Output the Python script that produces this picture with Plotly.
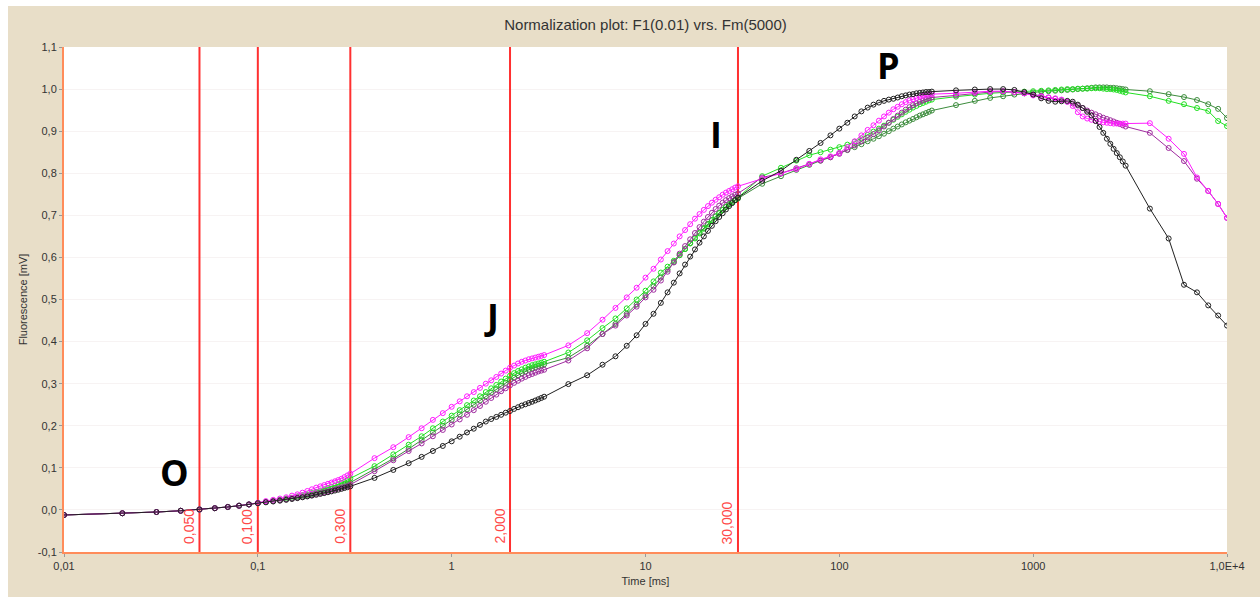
import math
import plotly.graph_objects as go

# Sampling times [ms] of the OJIP transient
time_ms = [
    0.01, 0.02, 0.03, 0.04, 0.05, 0.06, 0.07, 0.08, 0.09, 0.10,
    0.11, 0.12, 0.13, 0.14, 0.15, 0.16, 0.17, 0.18, 0.19, 0.20,
    0.21, 0.22, 0.23, 0.24, 0.25, 0.26, 0.27, 0.28, 0.29, 0.30,
    0.4, 0.5, 0.6, 0.7, 0.8, 0.9, 1.0, 1.1, 1.2, 1.3, 1.4, 1.5, 1.6, 1.7,
    1.8, 1.9, 2.0, 2.1, 2.2, 2.3, 2.4, 2.5, 2.6, 2.7, 2.8, 2.9, 3.0,
    4, 5, 6, 7, 8, 9, 10, 11, 12, 13, 14, 15, 16, 17, 18, 19, 20,
    21, 22, 23, 24, 25, 26, 27, 28, 29, 30,
    40, 50, 60, 70, 80, 90, 100, 110, 120, 130, 140, 150, 160, 170,
    180, 190, 200, 210, 220, 230, 240, 250, 260, 270, 280, 290, 300,
    400, 500, 600, 700, 800, 900, 1000, 1100, 1200, 1300, 1400, 1500,
    1600, 1700, 1800, 1900, 2000, 2100, 2200, 2300, 2400, 2500, 2600,
    2700, 2800, 2900, 3000,
    4000, 5000, 6000, 7000, 8000, 9000, 10000,
]

# Normalized fluorescence of the five samples
dark_green = [
    -0.012, -0.008, -0.005, -0.002, 0.001, 0.004, 0.007, 0.010, 0.013, 0.016,
    0.019, 0.021, 0.023, 0.026, 0.028, 0.030, 0.032, 0.035, 0.037, 0.040,
    0.042, 0.045, 0.047, 0.050, 0.052, 0.055, 0.057, 0.060, 0.062, 0.065,
    0.097, 0.122, 0.145, 0.166, 0.184, 0.200, 0.214, 0.227, 0.239, 0.250, 0.260, 0.270, 0.279, 0.287,
    0.295, 0.302, 0.309, 0.315, 0.320, 0.325, 0.329, 0.333, 0.336, 0.339, 0.342, 0.344, 0.346,
    0.362, 0.390, 0.418, 0.442, 0.466, 0.488, 0.510, 0.531, 0.552, 0.571, 0.589, 0.605, 0.620, 0.634,
    0.647, 0.659, 0.670, 0.680, 0.689, 0.698, 0.706, 0.713, 0.720, 0.726, 0.731, 0.736, 0.740,
    0.775, 0.793, 0.808, 0.820, 0.830, 0.838, 0.848, 0.855, 0.862, 0.869, 0.876, 0.882, 0.888, 0.894,
    0.900, 0.906, 0.911, 0.916, 0.921, 0.925, 0.929, 0.933, 0.937, 0.940, 0.943, 0.946, 0.949,
    0.962, 0.972, 0.979, 0.983, 0.987, 0.990, 0.992, 0.994, 0.995, 0.996, 0.997, 0.998,
    0.999, 1.000, 1.001, 1.002, 1.003, 1.004, 1.004, 1.004, 1.004, 1.003, 1.003,
    1.002, 1.001, 1.000, 0.999,
    0.995, 0.988, 0.981, 0.974, 0.964, 0.953, 0.931,
]

green = [
    -0.012, -0.008, -0.005, -0.002, 0.001, 0.004, 0.007, 0.010, 0.013, 0.016,
    0.019, 0.022, 0.024, 0.027, 0.029, 0.032, 0.035, 0.037, 0.040, 0.043,
    0.046, 0.049, 0.052, 0.055, 0.058, 0.061, 0.064, 0.067, 0.071, 0.075,
    0.104, 0.132, 0.155, 0.175, 0.194, 0.210, 0.224, 0.237, 0.249, 0.260, 0.270, 0.280, 0.289, 0.297,
    0.305, 0.312, 0.319, 0.325, 0.330, 0.334, 0.338, 0.341, 0.344, 0.346, 0.348, 0.350, 0.352,
    0.374, 0.403, 0.432, 0.455, 0.479, 0.500, 0.521, 0.543, 0.564, 0.578, 0.592, 0.606, 0.620, 0.633,
    0.645, 0.657, 0.668, 0.678, 0.688, 0.697, 0.705, 0.713, 0.720, 0.726, 0.732, 0.737, 0.742,
    0.793, 0.813, 0.830, 0.843, 0.850, 0.856, 0.862, 0.868, 0.875, 0.883, 0.891, 0.899, 0.906, 0.913,
    0.920, 0.927, 0.934, 0.940, 0.946, 0.951, 0.956, 0.960, 0.964, 0.967, 0.970, 0.973, 0.975,
    0.982, 0.987, 0.990, 0.992, 0.993, 0.994, 0.995, 0.996, 0.997, 0.998, 0.999, 1.000,
    1.000, 1.001, 1.001, 1.001, 1.002, 1.002, 1.002, 1.001, 1.000, 1.000, 0.999,
    0.998, 0.996, 0.994, 0.992,
    0.983, 0.972, 0.964, 0.955, 0.948, 0.924, 0.912,
]

purple = [
    -0.012, -0.008, -0.005, -0.002, 0.001, 0.004, 0.007, 0.010, 0.013, 0.016,
    0.019, 0.021, 0.023, 0.025, 0.027, 0.029, 0.031, 0.033, 0.035, 0.038,
    0.040, 0.042, 0.044, 0.046, 0.049, 0.051, 0.053, 0.055, 0.057, 0.060,
    0.092, 0.118, 0.140, 0.158, 0.175, 0.190, 0.203, 0.215, 0.226, 0.237, 0.247, 0.257, 0.266, 0.274,
    0.282, 0.289, 0.296, 0.302, 0.307, 0.312, 0.316, 0.320, 0.323, 0.326, 0.329, 0.331, 0.333,
    0.355, 0.384, 0.418, 0.438, 0.462, 0.483, 0.505, 0.523, 0.545, 0.566, 0.588, 0.609, 0.627, 0.643,
    0.658, 0.672, 0.685, 0.696, 0.706, 0.715, 0.723, 0.730, 0.736, 0.741, 0.745, 0.749, 0.752,
    0.790, 0.800, 0.812, 0.822, 0.830, 0.838, 0.846, 0.856, 0.866, 0.876, 0.885, 0.893, 0.902, 0.911,
    0.920, 0.929, 0.937, 0.944, 0.951, 0.957, 0.962, 0.966, 0.970, 0.973, 0.976, 0.978, 0.980,
    0.985, 0.990, 0.993, 0.994, 0.993, 0.990, 0.987, 0.984, 0.980, 0.977, 0.974, 0.970,
    0.966, 0.961, 0.955, 0.949, 0.944, 0.940, 0.936, 0.932, 0.929, 0.926, 0.923,
    0.920, 0.917, 0.914, 0.911,
    0.896, 0.860, 0.829, 0.787, 0.758, 0.727, 0.694,
]

magenta = [
    -0.012, -0.008, -0.005, -0.002, 0.001, 0.004, 0.007, 0.010, 0.013, 0.017,
    0.021, 0.024, 0.027, 0.030, 0.034, 0.037, 0.041, 0.045, 0.049, 0.053,
    0.056, 0.059, 0.062, 0.065, 0.068, 0.071, 0.074, 0.078, 0.082, 0.086,
    0.123, 0.149, 0.173, 0.194, 0.214, 0.230, 0.245, 0.258, 0.270, 0.280, 0.290, 0.300, 0.308, 0.316,
    0.324, 0.331, 0.338, 0.343, 0.348, 0.352, 0.355, 0.358, 0.360, 0.362, 0.364, 0.366, 0.368,
    0.391, 0.420, 0.452, 0.480, 0.505, 0.528, 0.552, 0.573, 0.595, 0.615, 0.633, 0.650, 0.665, 0.679,
    0.692, 0.703, 0.713, 0.722, 0.730, 0.737, 0.743, 0.749, 0.754, 0.758, 0.762, 0.766, 0.769,
    0.787, 0.800, 0.810, 0.822, 0.833, 0.840, 0.848, 0.862, 0.876, 0.890, 0.903, 0.914, 0.925, 0.935,
    0.944, 0.952, 0.958, 0.964, 0.969, 0.973, 0.976, 0.979, 0.982, 0.984, 0.986, 0.987, 0.988,
    0.990, 0.993, 0.995, 0.995, 0.993, 0.990, 0.985, 0.982, 0.980, 0.978, 0.975, 0.970,
    0.960, 0.945, 0.935, 0.930, 0.927, 0.925, 0.923, 0.921, 0.920, 0.919, 0.918,
    0.918, 0.918, 0.918, 0.918,
    0.919, 0.882, 0.846, 0.790, 0.758, 0.727, 0.694,
]

black = [
    -0.012, -0.008, -0.005, -0.002, 0.001, 0.004, 0.007, 0.010, 0.013, 0.016,
    0.018, 0.020, 0.022, 0.024, 0.026, 0.028, 0.030, 0.032, 0.034, 0.036,
    0.038, 0.040, 0.042, 0.044, 0.046, 0.048, 0.050, 0.052, 0.054, 0.056,
    0.076, 0.095, 0.111, 0.126, 0.140, 0.152, 0.163, 0.174, 0.184, 0.193, 0.202, 0.210, 0.216, 0.221,
    0.226, 0.231, 0.235, 0.240, 0.244, 0.248, 0.251, 0.254, 0.257, 0.260, 0.263, 0.266, 0.269,
    0.299, 0.320, 0.345, 0.365, 0.390, 0.415, 0.442, 0.466, 0.492, 0.517, 0.540, 0.562, 0.583, 0.602,
    0.619, 0.635, 0.650, 0.663, 0.675, 0.686, 0.696, 0.705, 0.714, 0.722, 0.729, 0.736, 0.742,
    0.782, 0.806, 0.832, 0.853, 0.872, 0.890, 0.906, 0.920, 0.935, 0.947, 0.956, 0.963, 0.968, 0.972,
    0.975, 0.977, 0.980, 0.983, 0.985, 0.987, 0.988, 0.990, 0.991, 0.992, 0.993, 0.993, 0.994,
    0.997, 0.999, 1.000, 1.000, 0.998, 0.993, 0.987, 0.978, 0.972, 0.970, 0.971, 0.972,
    0.970, 0.963, 0.955, 0.946, 0.937, 0.924, 0.910, 0.896, 0.882, 0.870, 0.858,
    0.848, 0.838, 0.828, 0.818,
    0.716, 0.645, 0.535, 0.517, 0.486, 0.462, 0.438,
]

series = [
    ("dark green", dark_green, "#3c8c3c"),
    ("green", green, "#22e022"),
    ("purple", purple, "#a02ca0"),
    ("magenta", magenta, "#ff1cff"),
    ("black", black, "#202020"),
]

# Marker times (vertical lines) and their labels
marker_times = [0.05, 0.1, 0.3, 2.0, 30.0]
marker_labels = ["0,050", "0,100", "0,300", "2,000", "30,000"]

# Phase letters of the transient
phase_letters = ["O", "J", "I", "P"]
phase_t = [0.037, 1.6, 23.0, 179.0]
phase_v = [0.088, 0.46, 0.893, 1.055]

y_ticks = [-0.1, 0.0, 0.1, 0.2, 0.3, 0.4, 0.5, 0.6, 0.7, 0.8, 0.9, 1.0, 1.1]
y_ticktext = ["-0,1", "0,0", "0,1", "0,2", "0,3", "0,4", "0,5", "0,6", "0,7", "0,8", "0,9", "1,0", "1,1"]
x_ticks = [0.01, 0.1, 1, 10, 100, 1000, 10000]
x_ticktext = ["0,01", "0,1", "1", "10", "100", "1000", "1,0E+4"]

BEIGE = "#e8dec8"
RED = "#ff3030"

fig = go.Figure()

for t in marker_times:
    fig.add_trace(go.Scatter(
        x=[t, t], y=[-0.1, 1.1], mode="lines",
        line=dict(color=RED, width=2), hoverinfo="skip", showlegend=False,
    ))

for name, vals, col in series:
    fig.add_trace(go.Scatter(
        x=time_ms, y=vals, mode="lines+markers", name=name,
        line=dict(color=col, width=1),
        marker=dict(symbol="circle-open", size=5, color=col, line=dict(width=1, color=col)),
        showlegend=False,
    ))

annotations = []
for t, lab in zip(marker_times, marker_labels):
    annotations.append(dict(
        x=math.log10(t), y=-0.1, xref="x", yref="y", text=lab, showarrow=False,
        textangle=-90, xanchor="right", yanchor="bottom", xshift=-1, yshift=6,
        font=dict(family="Liberation Sans, Arial", size=14, color="#ff4848"),
    ))
for lt, t, v in zip(phase_letters, phase_t, phase_v):
    annotations.append(dict(
        x=math.log10(t), y=v, xref="x", yref="y", text=lt, showarrow=False,
        xanchor="center", yanchor="middle",
        font=dict(family="Open Sans", size=36, color="#000000", weight="bold"),
    ))

# plot area in pixels: left 64, right 1227, top 47, bottom 552
PW, PH = 1163.0, 505.0
shapes = [
    # thin white band along the top and left edges of the window
    dict(type="rect", xref="paper", yref="paper", layer="below",
         x0=-64 / PW, x1=(1260 - 64) / PW, y0=(552 - 6) / PH, y1=552 / PH,
         fillcolor="white", line=dict(width=0)),
    dict(type="rect", xref="paper", yref="paper", layer="below",
         x0=-64 / PW, x1=-56 / PW, y0=-45 / PH, y1=552 / PH,
         fillcolor="white", line=dict(width=0)),
]

fig.update_layout(
    width=1260, height=597,
    margin=dict(l=64, r=33, t=47, b=45),
    paper_bgcolor=BEIGE, plot_bgcolor="white",
    title=dict(text="Normalization plot: F1(0.01) vrs. Fm(5000)", x=0.5, xref="paper",
               y=1 - 25 / 597, yanchor="middle",
               font=dict(family="Liberation Sans, Arial", size=15, color="#333333")),
    font=dict(family="Liberation Sans, Arial", size=11, color="#333333"),
    annotations=annotations,
    shapes=shapes,
    showlegend=False,
)

fig.update_xaxes(
    type="log", range=[-2, 4], tickvals=x_ticks, ticktext=x_ticktext,
    showgrid=False, zeroline=False, showline=True, linecolor="#ff8c5a", linewidth=2,
    ticks="outside", ticklen=3, tickcolor="#999999",
    tickfont=dict(size=11, color="#333333"),
    title=dict(text="Time [ms]", font=dict(size=11, color="#333333"), standoff=6),
)
fig.update_yaxes(
    range=[-0.1, 1.1], tickvals=y_ticks, ticktext=y_ticktext,
    showgrid=True, gridcolor="#f7f3f3", gridwidth=1, zeroline=False,
    showline=True, linecolor="#ff8c5a", linewidth=2,
    ticks="outside", ticklen=3, tickcolor="#999999",
    tickfont=dict(size=11, color="#333333"),
    title=dict(text="Fluorescence [mV]", font=dict(size=11, color="#333333"), standoff=8),
)

fig.write_html("out.html")
